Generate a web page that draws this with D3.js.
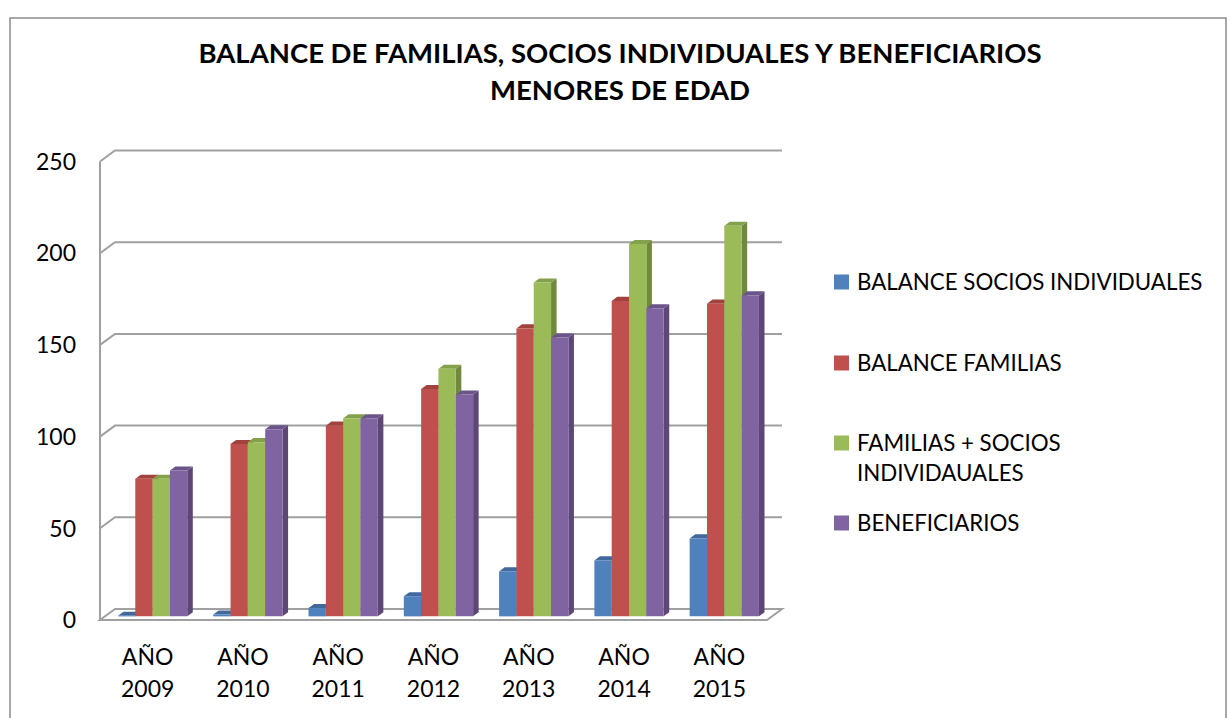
<!DOCTYPE html>
<html>
<head>
<meta charset="utf-8">
<script src="https://cdn.jsdelivr.net/npm/d3@7"></script>
<style>
  body { margin: 0; background: #fff; }
  text { font-family: Lato, "Open Sans", sans-serif; fill: #000; }
</style>
</head>
<body>
<div id="chart"></div>
<script>
const years = ["2009", "2010", "2011", "2012", "2013", "2014", "2015"];
const seriesNames = [
  "BALANCE SOCIOS INDIVIDUALES",
  "BALANCE FAMILIAS",
  "FAMILIAS + SOCIOS INDIVIDAUALES",
  "BENEFICIARIOS"
];
const sociosIndividuales = [0.3, 1, 4.5, 11, 24.5, 30.5, 42.5];
const familias = [75, 94, 104, 124, 157, 172, 170.5];
const familiasMasSocios = [75, 95, 108, 135, 182, 203, 213];
const beneficiarios = [79.5, 102, 108, 121, 152, 168, 175];
const yTicks = [0, 50, 100, 150, 200, 250];

(function () {
  const width = 1230, height = 718;
  const DX = 15, DY = 11;          // depth offset of the back wall
  const d0 = 0.33, d1 = 0.7;        // bar depth range

  const colors = ["#4f81bd", "#c0504d", "#9bbb59", "#8064a2"];
  const sideColors = ["#385d8a", "#8c3836", "#71893f", "#5c4776"];
  const topColors = ["#41699c", "#a2423f", "#83a04a", "#6b5489"];

  const seriesValues = [sociosIndividuales, familias, familiasMasSocios, beneficiarios];

  const svg = d3.select("#chart")
    .append("svg")
    .attr("width", width)
    .attr("height", height);

  // outer chart border
  svg.append("rect")
    .attr("x", 10).attr("y", 18)
    .attr("width", 1216).attr("height", 720)
    .attr("fill", "none")
    .attr("stroke", "#8c8c8c")
    .attr("stroke-width", 1.5);

  svg.append("text")
    .attr("x", 620).attr("y", 63)
    .attr("text-anchor", "middle")
    .style("font-weight", "bold")
    .style("font-size", "27.5px")
    .text("BALANCE DE FAMILIAS, SOCIOS INDIVIDUALES Y BENEFICIARIOS");
  svg.append("text")
    .attr("x", 620).attr("y", 100)
    .attr("text-anchor", "middle")
    .style("font-weight", "bold")
    .style("font-size", "27.5px")
    .text("MENORES DE EDAD");

  const x = d3.scaleBand().domain(years).range([100, 767]);
  const xSub = d3.scaleBand().domain(d3.range(4)).range([0, x.bandwidth()])
    .paddingInner(0).paddingOuter(0.75);
  const y = d3.scaleLinear().domain([0, 250]).range([620, 161.5]);

  const P = (px, py, d) => [px + d * DX, py - d * DY];

  const grid = svg.append("g")
    .attr("stroke", "#a0a0a0")
    .attr("stroke-width", 2)
    .attr("fill", "none");

  // gridlines: left wall diagonal + back wall horizontal
  grid.selectAll("polyline.grid")
    .data(yTicks.filter(t => t > 0))
    .join("polyline")
      .attr("class", "grid")
      .attr("points", t => [P(100, y(t), 0), P(100, y(t), 1), P(767, y(t), 1)].join(" "));

  // left wall front edge
  grid.append("line")
    .attr("x1", 100).attr("x2", 100)
    .attr("y1", y(250)).attr("y2", y(0));

  // floor
  grid.append("polygon")
    .attr("points", [P(100, y(0), 0), P(767, y(0), 0), P(767, y(0), 1), P(100, y(0), 1)].join(" "));

  // y labels
  svg.selectAll("text.ylab")
    .data(yTicks)
    .join("text")
      .attr("class", "ylab")
      .attr("x", 76)
      .attr("y", t => y(t))
      .attr("dy", "0.36em")
      .attr("text-anchor", "end")
      .style("font-size", "23px")
      .text(t => t);

  // bars, drawn left to right
  const bars = [];
  years.forEach((yr, i) => {
    seriesValues.forEach((vals, s) => {
      bars.push({ yr, s, v: vals[i] });
    });
  });

  const g = svg.selectAll("g.bar")
    .data(bars)
    .join("g")
      .attr("class", "bar");

  const geo = d => {
    const x0 = x(d.yr) + xSub(d.s), x1 = x0 + xSub.bandwidth();
    return { x0, x1, yt: y(d.v), yb: y(0) };
  };

  g.append("polygon")
    .attr("fill", d => sideColors[d.s])
    .attr("points", d => {
      const b = geo(d);
      return [P(b.x1, b.yt, d0), P(b.x1, b.yt, d1), P(b.x1, b.yb, d1), P(b.x1, b.yb, d0)].join(" ");
    });

  g.append("polygon")
    .attr("fill", d => topColors[d.s])
    .attr("points", d => {
      const b = geo(d);
      return [P(b.x0, b.yt, d0), P(b.x1, b.yt, d0), P(b.x1, b.yt, d1), P(b.x0, b.yt, d1)].join(" ");
    });

  g.append("polygon")
    .attr("fill", d => colors[d.s])
    .attr("points", d => {
      const b = geo(d);
      return [P(b.x0, b.yt, d0), P(b.x1, b.yt, d0), P(b.x1, b.yb, d0), P(b.x0, b.yb, d0)].join(" ");
    });

  // x labels
  const xl = svg.selectAll("text.xlab")
    .data(years)
    .join("text")
      .attr("class", "xlab")
      .attr("text-anchor", "middle")
      .style("font-size", "23px");
  xl.append("tspan")
    .attr("x", d => x(d) + x.bandwidth() / 2)
    .attr("y", 665)
    .text("AÑO");
  xl.append("tspan")
    .attr("x", d => x(d) + x.bandwidth() / 2)
    .attr("y", 697)
    .text(d => d);

  // legend
  const legendRows = [
    { lines: ["BALANCE SOCIOS INDIVIDUALES"], y: 282 },
    { lines: ["BALANCE FAMILIAS"], y: 363 },
    { lines: ["FAMILIAS + SOCIOS", "INDIVIDAUALES"], y: 443 },
    { lines: ["BENEFICIARIOS"], y: 523 }
  ];
  const lg = svg.selectAll("g.legend")
    .data(legendRows)
    .join("g")
      .attr("class", "legend");
  lg.append("rect")
    .attr("x", 834)
    .attr("y", d => d.y - 7.5)
    .attr("width", 15).attr("height", 15)
    .attr("fill", (d, i) => colors[i]);
  lg.append("text")
    .style("font-size", "22.3px")
    .selectAll("tspan")
    .data(d => d.lines.map((l, k) => ({ l, y: d.y + k * 30 })))
    .join("tspan")
      .attr("x", 857)
      .attr("y", d => d.y)
      .attr("dy", "0.36em")
      .text(d => d.l);
})();
</script>
</body>
</html>
